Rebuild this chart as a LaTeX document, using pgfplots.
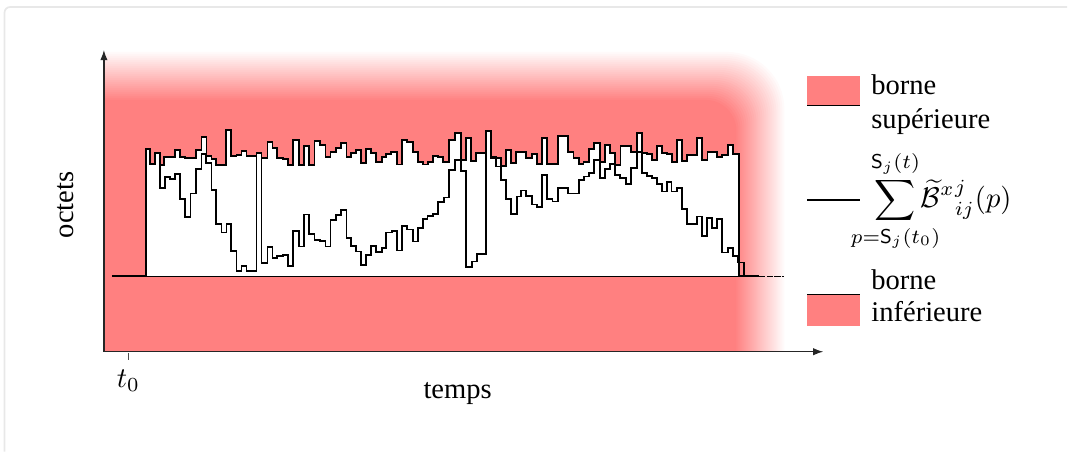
\documentclass[border=0pt]{standalone}
\usepackage{amsmath}
\usepackage{mathtools}
\usepackage{fontspec}
\setmainfont{Liberation Serif}
\usepackage{pgfplots}
\pgfplotsset{compat=1.18}
\usetikzlibrary{arrows.meta}
\begin{document}
\begin{tikzpicture}
\begin{axis}[width=373.8pt,height=158.2pt,scale only axis,
  xmin=0,xmax=1068,ymin=0,ymax=452,y dir=reverse,
  hide axis,clip=false]
\path (axis cs:0,0) rectangle (axis cs:1068,452);
% card frame
\draw[gray!18, line width=0.6pt, rounded corners=2pt] (axis cs:4.5,452) -- (axis cs:4.5,7) -- (axis cs:1068,7);
% blurred red background
\begin{scope}
\clip (axis cs:104,0) rectangle (axis cs:1068,352);
\pgfplotsinvokeforeach{0,...,24}{
  \fill[red!\the\numexpr 2*#1+2\relax!white, rounded corners={20pt-0.38pt*#1}]
    (axis cs:0,470) rectangle (axis cs:{785-2*#1},{52+2*#1});
}
\end{scope}
% upper bound (white area beneath)
\addplot[const plot, fill=white, draw=black, line width=0.65pt] coordinates {
(112,276.5) (146,149) (150,164) (155,153) (160,165) (164.5,157) (175,150) (180,157)
(185,158) (196,150) (201.7,137) (206.7,156) (211.7,159) (216.3,165) (226.5,130) (231,156)
(236.7,155) (241.7,151) (246.7,156) (256.7,153) (261.7,158) (267.7,141.7) (272.7,148)
(277.5,158.5) (283,159) (288.3,165) (293.5,140) (299,165) (304,145.7) (309.3,165)
(314.7,141.5) (320,145.3) (325.8,157) (330.8,152.5) (336,148) (341.5,143) (346.7,157.5)
(351.7,153) (356.5,150.5) (361.5,162.7) (366.7,149.5) (371.5,152.7) (376.7,161.7)
(382,156.7) (386.7,154) (391.7,152.3) (397.7,164.7) (402.7,140.5) (407.7,141.7)
(413,152.5) (418.3,161.7) (423.3,164.7) (428.3,161.7) (433.3,156) (438.3,157)
(443.5,161.7) (449.5,140.5) (455.5,132.7) (461,160) (466.7,138.3) (471.7,161)
(476.7,153.3) (486.7,131) (491.7,157) (496.7,158) (501.7,166.5) (506.7,149.7)
(511.7,163.3) (516.7,151.7) (521.7,152) (526.7,158.3) (532,154) (537.3,164)
(542.3,138.5) (547.3,164.5) (558.3,136) (568.3,152.3) (574,158.3) (579.3,164.5)
(584,161.7) (589.3,149.3) (594.3,142.7) (600.3,162.5) (605.7,145.5) (610.7,153.3)
(615.7,165) (621,146) (631.7,151.7) (637.3,133.3) (642.3,153.3) (647.3,154.5)
(652.3,160.3) (657.3,146.5) (662.5,153.3) (667.5,154.2) (672.5,162) (677.3,139.8)
(682.3,160.8) (687.3,155) (697.3,138) (702.5,160) (708,151.7) (717.5,157.3)
(722.7,155.3) (728.3,145) (734,154) (740,276.5) (744,276.5)};
% sum curve
\addplot[const plot, black, line width=0.65pt] coordinates {
(146,149) (150,164) (155,153.3) (160,188.3) (165,177.3) (170,179) (175,173.8) (180,199.5)
(185,217) (190.7,193.7) (196,169.2) (201.7,153.7) (206.3,162.9) (211.7,190.5) (216.3,224)
(221.7,232.7) (226.7,224.2) (231.3,251.3) (236.7,271.5) (241.7,266.3) (246.7,271.3)
(256.7,153) (261.7,263.3) (267.7,247) (272.7,258) (277.5,256.3) (283,255) (288.3,265.8)
(293.5,231) (299.2,246.7) (304,214.7) (309.3,234.5) (314.7,240.3) (320,241.3)
(325.8,246.7) (330.8,220) (336,215) (341.5,210.3) (346.7,238.3) (351.7,246.5)
(356.3,251.7) (361,265) (366,255) (371,246) (376.7,252.5) (382.3,248) (386.7,232.7)
(392.3,231) (397.7,250.7) (402.7,226.3) (407.7,229.7) (413,241.7) (418.3,228.3)
(423.3,219.5) (427.8,216) (433.3,214.5) (438.3,202.5) (444,197.7) (449.5,170)
(455.5,160.5) (461,171) (466.7,267) (472,261.7) (477.3,253.8) (486.7,131) (491.7,158.3)
(496.7,166.7) (501.7,180) (506.7,199.2) (511.7,213.8) (517,196.7) (521.7,190.7)
(526.7,196.3) (532,204.7) (537.3,207) (542.3,175) (547.3,199.2) (553,201.7)
(558.3,188.3) (568.7,193.7) (579.3,180) (584.7,176.7) (589.8,173) (594.8,160)
(600.3,178.5) (605.5,169.5) (610.5,164) (615.7,175.5) (620.5,178) (626.5,184.5)
(631.7,168) (637.3,152.3) (642.3,173.3) (647.3,176.5) (652.3,178.3) (657.3,184.5)
(662.3,191.7) (667.3,182) (672,191.7) (677.3,188.3) (682.3,209.5) (687.3,224)
(697.3,216.7) (702.5,236) (707.7,218.5) (712.7,228.3) (717.7,219.3) (722.7,252.7)
(728.3,248.3) (734,256.5) (739,262.7) (744.3,276.5) (760,276.5)};
% lower bound
\addplot[black, line width=0.5pt] coordinates {(112,276.5) (744,276.5)};
\addplot[black, line width=0.5pt, dash pattern=on 2.2pt off 0.5pt] coordinates {(744,276.5) (785,276.5)};
% axes
\draw[black!85, line width=0.45pt, -{Latex[length=3.6pt,width=2.6pt]}] (axis cs:104,352) -- (axis cs:104,50);
\draw[black!85, line width=0.45pt, -{Latex[length=3.6pt,width=2.6pt]}] (axis cs:104,352) -- (axis cs:824,352);
\draw[black!70, line width=0.4pt] (axis cs:129,353) -- (axis cs:129,360);
\node at (axis cs:128.5,381) {$t_0$};
\node at (axis cs:458,394) {temps};
\node[rotate=90] at (axis cs:66,205) {octets};
% legend
\fill[red!50!white] (axis cs:808,76) rectangle (axis cs:861,105.7);
\draw[black, line width=0.5pt] (axis cs:808,105.7) -- (axis cs:861,105.7);
\node[anchor=base west, inner sep=0] at (axis cs:871.5,95) {borne};
\node[anchor=base west, inner sep=0] at (axis cs:871.5,128.5) {supérieure};
\draw[black, line width=0.6pt] (axis cs:808,200) -- (axis cs:861,200);
\coordinate (sumleg) at (axis cs:875,201.5);
\fill[red!50!white] (axis cs:808,295) rectangle (axis cs:861,326);
\draw[black, line width=0.5pt] (axis cs:808,295) -- (axis cs:861,295);
\node[anchor=base west, inner sep=0] at (axis cs:871.5,290) {borne};
\node[anchor=base west, inner sep=0] at (axis cs:871.5,322) {inférieure};
\end{axis}
\node[anchor=west, inner sep=0] at (sumleg) {$\displaystyle\sum_{\mathclap{p=\mathsf{S}_j(t_0)}}^{\mathclap{\mathsf{S}_j(t)}}\widetilde{\mathcal{B}}^{x}\vphantom{\widetilde{\mathcal{B}}}^{j}_{ij}(p)$};
\end{tikzpicture}
\end{document}
